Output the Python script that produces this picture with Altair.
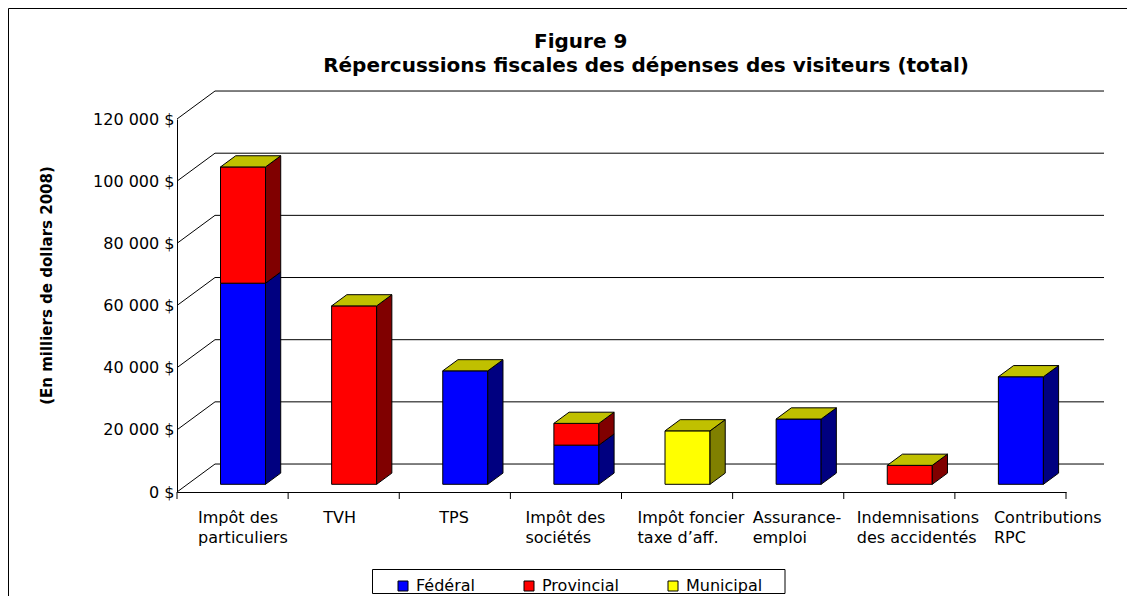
import json
import pandas as pd
import altair as alt

# ---------------- data ----------------
category_labels = [
    ["Impôt des", "particuliers"],
    ["TVH"],
    ["TPS"],
    ["Impôt des", "sociétés"],
    ["Impôt foncier", "taxe d’aff."],
    ["Assurance-", "emploi"],
    ["Indemnisations", "des accidentés"],
    ["Contributions", "RPC"],
]
series_names = ["Fédéral", "Provincial", "Municipal"]
federal = [64700, 0, 36500, 12600, 0, 21000, 0, 34600]
provincial = [37400, 57400, 0, 7000, 0, 0, 6100, 0]
municipal = [0, 0, 0, 0, 17200, 0, 0, 0]
y_ticks = [0, 20000, 40000, 60000, 80000, 100000, 120000]

title_line1 = "Figure 9"
title_line2 = "Répercussions fiscales des dépenses des visiteurs (total)"
y_title = "(En milliers de dollars 2008)"

# ---------------- styles ----------------
front_colors = ["#0000FF", "#FF0000", "#FFFF00"]
side_colors = ["#000080", "#800000", "#808000"]
top_color = "#C0C000"
FONT = "DejaVu Sans"
# horizontal nudge (px) of each wrapped category label, as laid out in the original
LABEL_DX = [-35, -21, -16, -41, -40, -36, -43, -17]

# pseudo-3D projection (depth expressed in scale units)
N = len(category_labels)
Y_MAX = 120000
DEPTH_X = 0.342     # category units
DEPTH_Y = 9000      # value units
F1, F2 = 0.275, 0.675   # bar depth range (fraction of full depth)
HALF_W = 0.2025         # half bar width in category units

W, H = 889, 373

XS = alt.Scale(domain=[0, N], nice=False, zero=False)
YS = alt.Scale(domain=[0, Y_MAX], nice=False, zero=False)

label_offset = {
    "condition": [{"test": f"floor(datum.value) == {i}", "value": d} for i, d in enumerate(LABEL_DX)],
    "value": -31,
}

XAX = alt.Axis(
    values=[i + 0.5 for i in range(N)],
    labelExpr=json.dumps(category_labels, ensure_ascii=False) + "[floor(datum.value)]",
    title=None, grid=False, ticks=False, tickSize=0, domain=True, domainColor="black",
    labelFont=FONT, labelFontSize=16, labelColor="black", labelAlign="left",
    labelBaseline="top", labelPadding=17, labelLineHeight=20, labelOffset=label_offset,
    labelOverlap=False, labelFlush=False, labelBound=False, labelLimit=300,
)
YAX = alt.Axis(
    values=y_ticks,
    labelExpr="replace(format(datum.value, ','), ',', ' ') + ' $'",
    title=y_title, titleFont=FONT, titleFontSize=15, titleFontWeight="bold", titleColor="black",
    titleAngle=270, titleAlign="center", titleBaseline="middle", titleX=-131, titleY=166,
    grid=False, ticks=False, tickSize=0, domain=True, domainColor="black",
    labelFont=FONT, labelFontSize=16, labelColor="black", labelPadding=3,
)

# ---------------- geometry tables ----------------
grid_df = pd.DataFrame({"v": y_ticks})
grid_df["x"] = DEPTH_X
grid_df["x2"] = N + DEPTH_X
grid_df["yb"] = grid_df["v"] + DEPTH_Y

tick_df = pd.DataFrame({"t": list(range(N + 1))})

front_rows, side_rows, top_rows = [], [], []
seg = 0
for i in range(N):
    vals = [federal[i], provincial[i], municipal[i]]
    c = i + 0.5
    xl, xr = c - HALF_W, c + HALF_W
    y0 = 0
    for s, v in enumerate(vals):
        if v <= 0:
            continue
        y1 = y0 + v
        front_rows.append({
            "series": series_names[s],
            "x": xl + F1 * DEPTH_X, "x2": xr + F1 * DEPTH_X,
            "y": y0 + F1 * DEPTH_Y, "y2": y1 + F1 * DEPTH_Y,
        })
        for f in (F1, F2):
            side_rows.append({
                "seg": seg, "col": side_colors[s],
                "x": xr + f * DEPTH_X, "lo": y0 + f * DEPTH_Y, "hi": y1 + f * DEPTH_Y,
            })
        seg += 1
        y0 = y1
    for f in (F1, F2):
        top_rows.append({
            "bar": i, "col": top_color,
            "ty": y0 + f * DEPTH_Y, "xa": xl + f * DEPTH_X, "xb": xr + f * DEPTH_X,
        })

front_df = pd.DataFrame(front_rows)
side_df = pd.DataFrame(side_rows)
top_df = pd.DataFrame(top_rows)
one = pd.DataFrame({"k": [0]})

# ---------------- layers ----------------
border = alt.Chart(one).mark_rect(fillOpacity=0, stroke="black", strokeWidth=1).encode(
    x=alt.value(-168.5), x2=alt.value(1000), y=alt.value(-110.5), y2=alt.value(600)
)

back_grid = alt.Chart(grid_df).mark_rule(color="black", strokeWidth=1).encode(
    x=alt.X("x:Q", scale=XS, axis=XAX), x2="x2:Q",
    y=alt.Y("yb:Q", scale=YS, axis=YAX),
)
diagonals = alt.Chart(grid_df).mark_rule(color="black", strokeWidth=1).encode(
    x=alt.X("t0:Q", scale=XS, axis=XAX), x2="x:Q",
    y=alt.Y("v:Q", scale=YS, axis=YAX), y2="yb:Q",
).transform_calculate(t0="0")

ticks = alt.Chart(tick_df).mark_rule(color="black", strokeWidth=1).encode(
    x=alt.X("t:Q", scale=XS, axis=XAX), y=alt.value(H), y2=alt.value(H + 7)
)

front = alt.Chart(front_df).mark_rect(stroke="black", strokeWidth=1).encode(
    x=alt.X("x:Q", scale=XS, axis=XAX), x2="x2:Q",
    y=alt.Y("y:Q", scale=YS, axis=YAX), y2="y2:Q",
    color=alt.Color(
        "series:N",
        scale=alt.Scale(domain=series_names, range=front_colors),
        legend=alt.Legend(
            title=None, orient="none", legendX=218, legendY=459, direction="horizontal",
            symbolType="square", symbolSize=100, symbolStrokeColor="black",
            symbolStrokeWidth=1, symbolOpacity=1, labelFont=FONT, labelFontSize=16,
            labelColor="black", labelOffset=5, columnPadding=46, padding=0,
        ),
    ),
)

sides = alt.Chart(side_df).mark_area(orient="vertical", stroke="black", strokeWidth=1, opacity=1).encode(
    x=alt.X("x:Q", scale=XS, axis=XAX),
    y=alt.Y("lo:Q", scale=YS, axis=YAX), y2="hi:Q",
    detail="seg:N",
    fill=alt.Fill("col:N", scale=None),
)

tops = alt.Chart(top_df).mark_area(orient="horizontal", stroke="black", strokeWidth=1, opacity=1).encode(
    y=alt.Y("ty:Q", scale=YS, axis=YAX),
    x=alt.X("xa:Q", scale=XS, axis=XAX), x2="xb:Q",
    detail="bar:N",
    fill=alt.Fill("col:N", scale=None),
)

legend_box = alt.Chart(one).mark_rect(fill="white", stroke="black", strokeWidth=1).encode(
    x=alt.value(195.5), x2=alt.value(608), y=alt.value(450.5), y2=alt.value(474.5)
)

t1 = alt.Chart(pd.DataFrame({"t": [title_line1]})).mark_text(
    font=FONT, fontSize=20, fontWeight="bold", align="center", baseline="alphabetic", color="black"
).encode(text="t:N", x=alt.value(403.7), y=alt.value(-71.3))
t2 = alt.Chart(pd.DataFrame({"t": [title_line2]})).mark_text(
    font=FONT, fontSize=20, fontWeight="bold", align="center", baseline="alphabetic", color="black"
).encode(text="t:N", x=alt.value(469), y=alt.value(-47.3))

chart = alt.layer(
    border, back_grid, diagonals, ticks, front, sides, tops, legend_box, t1, t2
).properties(
    width=W, height=H,
    autosize=alt.AutoSizeParams(type="none"),
    padding={"left": 169, "top": 111, "right": 61, "bottom": 104},
).configure_view(strokeWidth=0)

chart.save("out.html", embed_options={"renderer": "svg", "actions": False})
